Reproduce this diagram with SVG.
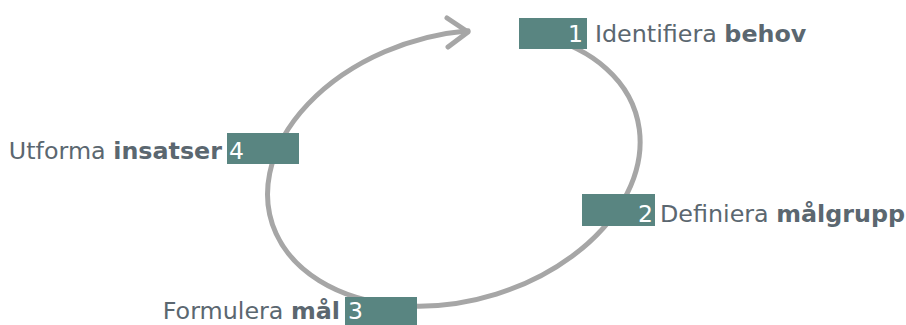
<svg xmlns="http://www.w3.org/2000/svg" width="906" height="325" viewBox="0 0 906 325">
<style>
.loop{fill:none;stroke:#a6a6a6;stroke-width:5;stroke-linecap:round;stroke-linejoin:round}
.box{fill:#598581}
.num{font-family:"DejaVu Sans",Verdana,sans-serif;font-size:23.5px;fill:#ffffff}
.lbl{font-family:"DejaVu Sans",Verdana,sans-serif;font-size:23.8px;fill:#5b6770}
.b{font-weight:bold}
</style>
<rect width="906" height="325" fill="#ffffff"/>
<g id="connectors">
<path class="loop" d="M 543.3 36.4 A 190 133 -16 1 1 468.1 30.7"/>
<polyline class="loop" points="447,18 468,32 448,47"/>
</g>
<g id="node1">
<rect class="box" x="519" y="18" width="68" height="31"/>
<text class="num" x="583" y="42" text-anchor="end">1</text>
<text class="lbl" x="595" y="42">Identifiera <tspan class="b">behov</tspan></text>
</g>
<g id="node2">
<rect class="box" x="582" y="194" width="73" height="32"/>
<text class="num" x="653" y="222" text-anchor="end">2</text>
<text class="lbl" x="660" y="222">Definiera <tspan class="b">målgrupp</tspan></text>
</g>
<g id="node3">
<rect class="box" x="345" y="297" width="72" height="31"/>
<text class="num" x="348" y="319">3</text>
<text class="lbl" x="340" y="319" text-anchor="end">Formulera <tspan class="b">mål</tspan></text>
</g>
<g id="node4">
<rect class="box" x="227" y="133" width="72" height="31"/>
<text class="num" x="229" y="159">4</text>
<text class="lbl" x="222" y="159" text-anchor="end">Utforma <tspan class="b">insatser</tspan></text>
</g>
</svg>
